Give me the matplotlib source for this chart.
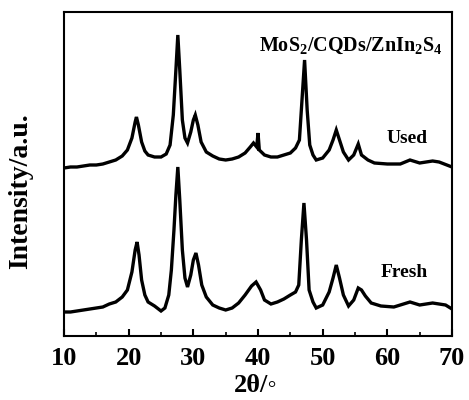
import matplotlib
matplotlib.use("Agg")
import matplotlib.pyplot as plt
from matplotlib.ticker import MultipleLocator

plt.rcParams['font.family'] = ['Liberation Serif', 'DejaVu Serif']
plt.rcParams['mathtext.fontset'] = 'custom'
plt.rcParams['mathtext.rm'] = 'Liberation Serif:bold'
plt.rcParams['mathtext.bf'] = 'Liberation Serif:bold'

# Used sample (2theta, intensity a.u.)
used_x = [10, 11, 12, 13, 14, 15, 16, 17, 18, 19, 19.8, 20.5, 21.0, 21.2, 21.5, 22.0, 22.5, 23.0,
          24.0, 25.0, 25.8, 26.4, 26.9, 27.3, 27.6, 27.9, 28.3, 28.7, 29.1, 29.6, 30.0, 30.3,
          30.7, 31.2, 32.0, 33.0, 34.0, 35.0, 36.0, 37.0, 38.0, 38.8, 39.3, 39.8, 40.0, 40.2,
          41.0, 42.0, 43.0, 44.0, 45.0, 45.8, 46.4, 46.8, 47.2, 47.6, 48.0, 48.5, 49.0, 50.0,
          51.0, 51.6, 52.1, 52.6, 53.2, 54.0, 54.8, 55.5, 56.0, 57.0, 58.0, 60.0, 62.0, 63.5,
          65.0, 67.0, 68.0, 70.0]
used_y = [168, 169, 169, 170, 171, 171, 172, 174, 176, 180, 186, 198, 214, 219, 211, 194, 185, 181,
          179, 179, 182, 191, 221, 266, 301, 266, 216, 198, 193, 204, 216, 221,
          211, 194, 184, 180, 177, 176, 177, 179, 183, 189, 193, 189, 203, 186,
          181, 179, 179, 181, 183, 188, 196, 236, 276, 226, 191, 181, 176, 178,
          186, 196, 206, 196, 184, 176, 181, 192, 181, 176, 173, 172, 172, 176,
          173, 175, 174, 169]

# Fresh sample
fresh_x = [10, 11, 12, 13, 14, 15, 16, 17, 18, 19, 19.8, 20.5, 21.0, 21.3, 21.6, 22.0, 22.5, 23.0,
           24.0, 25.0, 25.6, 26.2, 26.6, 27.0, 27.3, 27.6, 27.9, 28.3, 28.7, 29.1, 29.6, 30.0,
           30.4, 30.8, 31.3, 32.0, 33.0, 34.0, 35.0, 36.0, 37.0, 38.0, 39.0, 39.7, 40.4, 41.0,
           42.0, 43.0, 44.0, 45.0, 45.8, 46.3, 46.7, 47.1, 47.5, 47.9, 48.5, 49.0, 50.0, 51.0,
           51.6, 52.1, 52.6, 53.2, 54.0, 54.8, 55.5, 56.0, 56.6, 57.5, 59.0, 61.0, 63.5, 65.0,
           67.0, 69.0, 70.0]
fresh_y = [24, 24, 25, 26, 27, 28, 29, 32, 34, 39, 46, 64, 86, 94, 81, 56, 41, 34,
           30, 25, 28, 41, 66, 106, 141, 169, 136, 86, 58, 49, 61, 76,
           83, 71, 51, 39, 31, 28, 26, 28, 33, 41, 50, 54, 46, 36,
           32, 34, 37, 41, 44, 51, 96, 133, 96, 46, 34, 28, 31, 44,
           58, 71, 58, 41, 30, 36, 48, 46, 40, 33, 30, 29, 34, 31,
           33, 31, 27]

xticks = [10, 20, 30, 40, 50, 60, 70]

fig = plt.figure(figsize=(4.69, 4.0), dpi=100)
ax = fig.add_axes([0.1365, 0.16, 0.8273, 0.81])

ax.plot(used_x, used_y, color='black', lw=2.4, solid_joinstyle='miter')
ax.plot(fresh_x, fresh_y, color='black', lw=2.4, solid_joinstyle='miter')

ax.set_xlim(10, 70)
ax.set_ylim(0, 324)
ax.set_xticks(xticks)
ax.set_xticklabels([str(t) for t in xticks], fontsize=19, fontweight='bold')
ax.xaxis.set_minor_locator(MultipleLocator(5))
ax.set_yticks([])
ax.tick_params(axis='x', which='major', direction='in', length=5, width=1.5, pad=8)
ax.tick_params(axis='x', which='minor', direction='in', length=3, width=1.2)
for s in ax.spines.values():
    s.set_linewidth(1.5)

fig.text(256 / 469, 1 - 386 / 400, '2θ/◦', fontsize=19, fontweight='bold',
         ha='center', va='center')
fig.text(21 / 469, 1 - 191 / 400, 'Intensity/a.u.', fontsize=20, fontweight='bold',
         ha='center', va='center', rotation=90)

ax.text(0.975, 0.895, r'MoS$_\mathrm{2}$/CQDs/ZnIn$_\mathrm{2}$S$_\mathrm{4}$',
        transform=ax.transAxes, ha='right', va='center', fontsize=14.5, fontweight='bold')
ax.text(0.938, 0.61, 'Used', transform=ax.transAxes, ha='right', va='center',
        fontsize=14, fontweight='bold')
ax.text(0.938, 0.195, 'Fresh', transform=ax.transAxes, ha='right', va='center',
        fontsize=14, fontweight='bold')

fig.savefig('out.png', dpi=100)
